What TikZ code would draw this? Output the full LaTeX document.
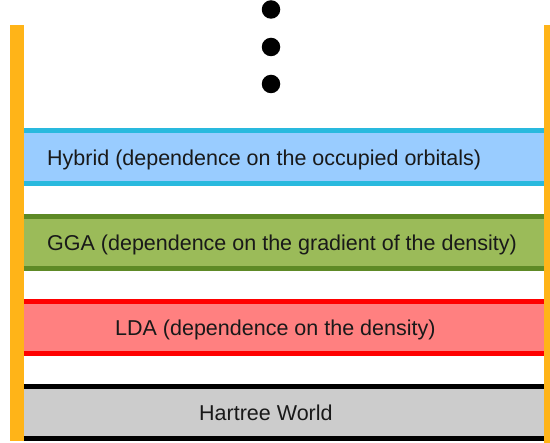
\documentclass[tikz,border=0pt]{standalone}
\usepackage{fontspec}
\setmainfont{Liberation Sans}
\definecolor{orangebar}{HTML}{FFB418}
\definecolor{hyline}{HTML}{29B9DE}
\definecolor{hyfill}{HTML}{99CCFF}
\definecolor{ggaline}{HTML}{5E8A26}
\definecolor{ggafill}{HTML}{9BBB59}
\definecolor{ldaline}{HTML}{FF0000}
\definecolor{ldafill}{HTML}{FF8080}
\definecolor{hwfill}{HTML}{CCCCCC}
\begin{document}
\begin{tikzpicture}[x=1pt,y=-1pt,
  band/.style={rectangle, inner sep=0pt, minimum width=520pt, minimum height=52pt, draw=none},
  edge/.style={line width=5pt},
  label/.style={inner sep=0pt, anchor=base west, font=\fontsize{21.5}{25}\selectfont, text=black!90},
  bar/.style={fill=orangebar, draw=none},
  dot/.style={circle, fill=black, inner sep=0pt, minimum size=18.5pt}]
\useasboundingbox (0,0) rectangle (550,443);
\fill[white] (0,0) rectangle (550,443);
% orange side bars
\path[bar] (9.5,25) rectangle (24,441);
\path[bar] (544,25) rectangle (550,443);
% dots
\node[dot] (d1) at (271,9.5) {};
\node[dot] (d2) at (271,47) {};
\node[dot] (d3) at (271,84) {};
% bands
\node[band, fill=hyfill] (hyb) at (284,157) {};
\draw[edge, draw=hyline] (hyb.north west) -- (hyb.north east);
\draw[edge, draw=hyline] (hyb.south west) -- (hyb.south east);
\node[band, fill=ggafill] (gga) at (284,242.5) {};
\draw[edge, draw=ggaline] (gga.north west) -- (gga.north east);
\draw[edge, draw=ggaline] (gga.south west) -- (gga.south east);
\node[band, fill=ldafill] (lda) at (284,327.5) {};
\draw[edge, draw=ldaline] (lda.north west) -- (lda.north east);
\draw[edge, draw=ldaline] (lda.south west) -- (lda.south east);
\node[band, fill=hwfill] (hw) at (284,412.5) {};
\draw[edge, draw=black] (hw.north west) -- (hw.north east);
\draw[edge, draw=black] (hw.south west) -- (hw.south east);
% labels
\node[label] (thyb) at (47,165.5) {Hybrid (dependence on the occupied orbitals)};
\node[label] (tgga) at (47,250.5) {GGA (dependence on the gradient of the density)};
\node[label] (tlda) at (115,335.5) {LDA (dependence on the density)};
\node[label] (thw) at (199,421) {Hartree World};
\end{tikzpicture}
\end{document}
